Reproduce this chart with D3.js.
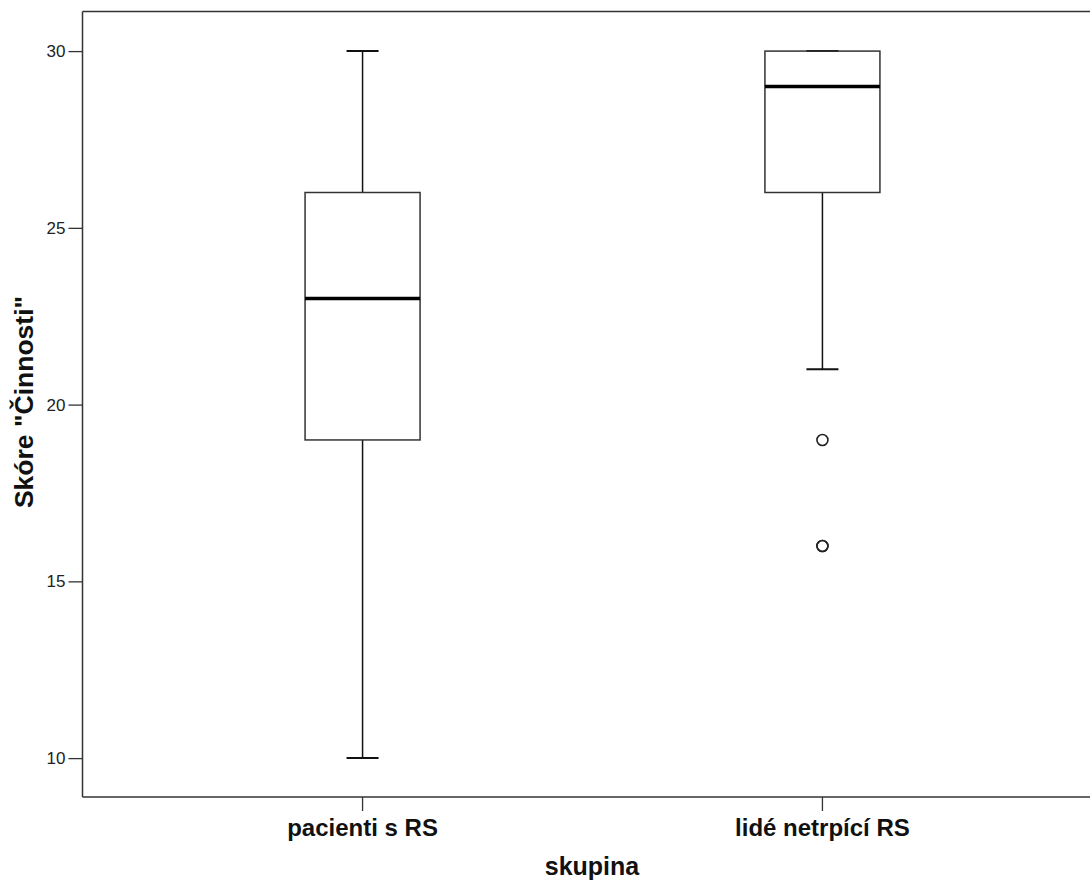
<!DOCTYPE html>
<html>
<head>
<meta charset="utf-8">
<script src="https://cdn.jsdelivr.net/npm/d3@7"></script>
<style>
body { margin: 0; background: #fff; }
</style>
</head>
<body>
<div id="chart"></div>
<script>
// data
var groups = ["pacienti s RS", "lidé netrpící RS"];
var whiskerLow = [10, 21];
var q1 = [19, 26];
var median = [23, 29];
var q3 = [26, 30];
var whiskerHigh = [30, 30];
var outlierGroup = ["lidé netrpící RS", "lidé netrpící RS", "lidé netrpící RS"];
var outlierValue = [19, 16, 16];
var yTicks = [10, 15, 20, 25, 30];

var W = 1090, H = 881;
var plotLeft = 82.5, plotTop = 11.5, plotBottom = 797;
var font = "Arial, 'Liberation Sans', sans-serif";

var svg = d3.select("#chart").append("svg")
  .attr("width", W)
  .attr("height", H);

var y = d3.scaleLinear()
  .domain([8.9, 31.12])
  .range([plotBottom, plotTop]);

var x = d3.scaleBand()
  .domain(groups)
  .range([plotLeft, 1102.5])
  .paddingInner(0)
  .paddingOuter(0.109);

var boxW = 115, capW = 32;

// frame top
svg.append("line")
  .attr("x1", plotLeft).attr("x2", W)
  .attr("y1", plotTop).attr("y2", plotTop)
  .attr("stroke", "#333").attr("stroke-width", 1.5);

// y axis
var yAxis = svg.append("g")
  .attr("transform", "translate(" + plotLeft + ",0)")
  .call(d3.axisLeft(y).tickValues(yTicks).tickSize(14).tickPadding(3));
yAxis.select(".domain").remove();
yAxis.selectAll(".tick line").attr("stroke", "#333").attr("stroke-width", 1.3);
yAxis.selectAll("text")
  .attr("font-family", font)
  .attr("font-size", "17px")
  .attr("fill", "#222");
svg.append("line")
  .attr("x1", plotLeft).attr("x2", plotLeft)
  .attr("y1", plotTop).attr("y2", plotBottom)
  .attr("stroke", "#333").attr("stroke-width", 1.5);

// x axis
var xAxis = svg.append("g")
  .attr("transform", "translate(0," + plotBottom + ")")
  .call(d3.axisBottom(x).tickSize(14));
xAxis.select(".domain").remove();
xAxis.selectAll(".tick line").attr("stroke", "#333").attr("stroke-width", 1.3);
xAxis.selectAll("text")
  .attr("y", 39)
  .attr("dy", null)
  .attr("font-family", font)
  .attr("font-weight", "bold")
  .attr("font-size", "24px")
  .attr("fill", "#111");
svg.append("line")
  .attr("x1", plotLeft).attr("x2", W)
  .attr("y1", plotBottom).attr("y2", plotBottom)
  .attr("stroke", "#333").attr("stroke-width", 1.5);

// axis titles
svg.append("text")
  .attr("x", 592)
  .attr("y", 875)
  .attr("text-anchor", "middle")
  .attr("font-family", font)
  .attr("font-weight", "bold")
  .attr("font-size", "25px")
  .attr("fill", "#111")
  .text("skupina");

svg.append("text")
  .attr("transform", "translate(33,402) rotate(-90)")
  .attr("text-anchor", "middle")
  .attr("font-family", font)
  .attr("font-weight", "bold")
  .attr("font-size", "26.5px")
  .attr("fill", "#111")
  .text("Skóre \"Činnosti\"");

// boxes
var rows = groups.map(function(g, i) {
  return { g: g, lo: whiskerLow[i], q1: q1[i], med: median[i], q3: q3[i], hi: whiskerHigh[i] };
});

var cx = function(d) { return x(d.g) + x.bandwidth() / 2; };

var box = svg.selectAll(".box")
  .data(rows)
  .enter()
  .append("g")
  .attr("class", "box");

// whiskers
box.append("line")
  .attr("x1", cx).attr("x2", cx)
  .attr("y1", function(d) { return y(d.lo); })
  .attr("y2", function(d) { return y(d.q1); })
  .attr("stroke", "#111").attr("stroke-width", 1.5);
box.append("line")
  .attr("x1", cx).attr("x2", cx)
  .attr("y1", function(d) { return y(d.q3); })
  .attr("y2", function(d) { return y(d.hi); })
  .attr("stroke", "#111").attr("stroke-width", 1.5);
box.append("line")
  .attr("x1", function(d) { return cx(d) - capW / 2; })
  .attr("x2", function(d) { return cx(d) + capW / 2; })
  .attr("y1", function(d) { return y(d.lo); })
  .attr("y2", function(d) { return y(d.lo); })
  .attr("stroke", "#111").attr("stroke-width", 2);
box.append("line")
  .attr("x1", function(d) { return cx(d) - capW / 2; })
  .attr("x2", function(d) { return cx(d) + capW / 2; })
  .attr("y1", function(d) { return y(d.hi); })
  .attr("y2", function(d) { return y(d.hi); })
  .attr("stroke", "#111").attr("stroke-width", 2);

// box
box.append("rect")
  .attr("x", function(d) { return cx(d) - boxW / 2; })
  .attr("width", boxW)
  .attr("y", function(d) { return y(d.q3); })
  .attr("height", function(d) { return y(d.q1) - y(d.q3); })
  .attr("fill", "none")
  .attr("stroke", "#333").attr("stroke-width", 1.5);

// median
box.append("line")
  .attr("x1", function(d) { return cx(d) - boxW / 2; })
  .attr("x2", function(d) { return cx(d) + boxW / 2; })
  .attr("y1", function(d) { return y(d.med); })
  .attr("y2", function(d) { return y(d.med); })
  .attr("stroke", "#000").attr("stroke-width", 3.5);

// outliers
svg.selectAll(".outlier")
  .data(outlierValue)
  .enter()
  .append("circle")
  .attr("class", "outlier")
  .attr("cx", function(d, i) { return x(outlierGroup[i]) + x.bandwidth() / 2; })
  .attr("cy", function(d) { return y(d); })
  .attr("r", 5.5)
  .attr("fill", "none")
  .attr("stroke", "#222")
  .attr("stroke-width", 1.6);
</script>
</body>
</html>
